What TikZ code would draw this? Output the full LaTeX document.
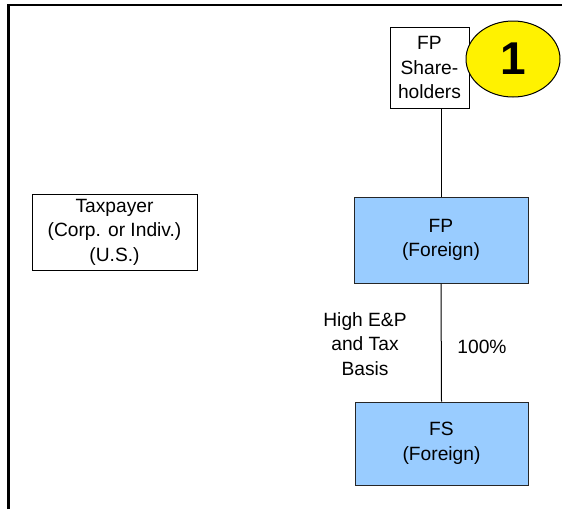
\documentclass[tikz,border=0pt]{standalone}
\usepackage{fontspec}
\setmainfont{Liberation Sans}
\usetikzlibrary{positioning,shapes.geometric}
\definecolor{foreignblue}{RGB}{153,204,255}

\begin{document}
\begin{tikzpicture}[x=1pt,y=-1pt,
    every node/.style={font=\fontsize{19.2}{24.5}\selectfont,align=center,inner sep=0pt},
    entity/.style={draw,line width=1pt,rectangle},
    foreign/.style={entity,fill=foreignblue,draw=black!85}]
    \useasboundingbox (0,0) rectangle (562,509);
    \draw [line width=2.5pt] (8.5,509) -- (8.5,5) -- (562,5);

    \node (taxpayer) [entity,minimum width=165,minimum height=76] at (114.5,232) {Taxpayer\\(Corp. or Indiv.)\\(U.S.)};
    \node (holders) [entity,minimum width=79,minimum height=81] at (429.5,67.5) {FP\\Share-\\holders};
    \node (fp) [foreign,minimum width=174,minimum height=86] at (441,240) {FP\\(Foreign)};
    \node (fs) [foreign,minimum width=173,minimum height=83] at (441.5,443.5) {FS\\(Foreign)};
    \node (badge) [ellipse,draw,line width=1pt,fill=yellow,minimum width=94,minimum height=76,
      font=\fontsize{46}{46}\selectfont\bfseries] at (513,59) {1};

    \draw [line width=1pt] (holders.south -| fp.north) -- (fp.north);
    \draw [line width=1pt] (fp.south) -- (fs.north);

    \node (basis) at (365,344) {High E\&P\\and Tax\\Basis};
    \node (share) at (482,347) {100\%};
  \end{tikzpicture}
\end{document}
